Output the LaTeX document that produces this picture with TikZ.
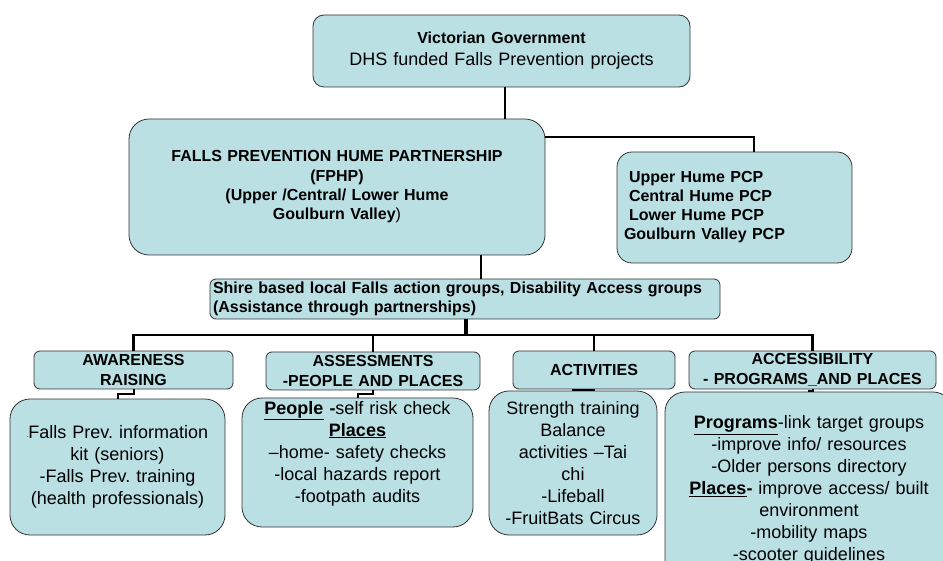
\documentclass[tikz,border=0pt]{standalone}
\usepackage{fontspec}
\setmainfont{Liberation Sans}
\frenchspacing
\definecolor{boxfill}{RGB}{186,224,228}
\newcommand{\bul}[1]{\textbf{\underline{#1}}}

\begin{document}
\begin{tikzpicture}[x = 1pt, y = -1pt, every node/.style = {draw = black!80, line width = 0.8pt, fill = boxfill, align = center, inner sep = 1pt},
	headbox/.style = {rounded corners = 6pt, inner ysep = 0pt, minimum height = 38pt, font = \fontsize{16}{20}\selectfont\bfseries},
	textbox/.style = {rounded corners = 20pt, font = \fontsize{18}{22}\selectfont},
	link/.style = {draw = black, line width = 2.2pt}]

	\useasboundingbox (0, 0) rectangle (943, 561);

	\node (gov)    at (501.5,  51) [rounded corners = 11pt, text width = 375pt, minimum height = 72pt, font = \fontsize{18}{22}\selectfont] {{\fontsize{16}{22}\selectfont\bfseries Victorian Government}\\ DHS funded Falls Prevention projects};
	\node (fphp)   at (337,   187) [rounded corners = 20pt, text width = 414pt, minimum height = 136pt, font = \fontsize{16}{19.3}\selectfont\bfseries] {FALLS PREVENTION HUME PARTNERSHIP\\ (FPHP)\\ (Upper /Central/ Lower Hume\\ Goulburn Valley\textmd{)}};
	\node (pcp)    at (734.5, 207.5) [rounded corners = 15pt, align = left, inner xsep = 7pt, text width = 221pt, minimum height = 111pt, font = \fontsize{16}{19}\selectfont\bfseries] {\hspace*{5pt}Upper Hume PCP\\ \hspace*{5pt}Central Hume PCP\\ \hspace*{5pt}Lower Hume PCP\\ Goulburn Valley PCP};
	\node (shire)  at (465,   299) [rounded corners = 6pt, align = left, inner xsep = 3pt, inner ysep = 0pt, text width = 504pt, minimum height = 40pt, font = \fontsize{16}{19}\selectfont\bfseries] {Shire based local Falls action groups, Disability Access groups\\ (Assistance through partnerships)};

	\node (aware)  at (133.5, 370) [headbox, text width = 197pt] {AWARENESS\\ RAISING};
	\node (assess) at (373,   371) [headbox, text width = 212pt] {ASSESSMENTS\\ -PEOPLE AND PLACES};
	\node (activ)  at (594,   370) [headbox, text width = 160pt] {ACTIVITIES};
	\node (access) at (812.5, 370) [headbox, text width = 245pt] {ACCESSIBILITY\\ - PROGRAMS\_AND PLACES};

	\node (b1) at (117.5, 467)   [textbox, text width = 213pt, minimum height = 136pt] {{\tiny -}Falls Prev. information\\ kit (seniors)\\ -Falls Prev. training\\ (health professionals)};
	\node (b2) at (357.5, 462.5) [textbox, text width = 229pt, minimum height = 129pt] {\bul{People} \textbf{-}self risk check\\ \bul{Places}\\ --home- safety checks\\ -local hazards report\\ -footpath audits\\ \mbox{}};
	\node (b3) at (573,   463)   [textbox, text width = 166pt, minimum height = 144pt] {Strength training\\ Balance\\ activities --Tai\\ chi\\ -Lifeball\\ -FruitBats Circus};
	\node (b4) at (809,   490)   [textbox, text width = 286pt, minimum height = 196pt] {\bul{Programs}-link target groups\\ -improve info/ resources\\ -Older persons directory\\ \textbf{\underline{Places}-} improve access/ built\\ environment\\ -mobility maps\\ -scooter guidelines};

	\draw[link] ([xshift = 3.5pt]gov.south) -- ([xshift = 3.5pt]gov.south |- fphp.north);
	\draw[link] ([yshift = 50pt]fphp.east) -| ([xshift = 19.5pt]pcp.north);
	\draw[link] ([xshift = 144pt]fphp.south) -- ([xshift = 144pt]fphp.south |- shire.north);

	\coordinate (bus) at (466, 335);
	\draw[link, line width = 3.5pt] (shire.south -| bus) -- (bus);
	\foreach \head in {aware, assess, activ, access}
		\draw[link] (bus) -| (\head.north);

	\foreach \head/\body/\drop in {aware/b1/5, assess/b2/4, activ/b3/1, access/b4/1.5}
		\draw[link, line width = 2pt] (\head.south) -- ++(0, \drop) -| (\body.north);
\end{tikzpicture}
\end{document}
